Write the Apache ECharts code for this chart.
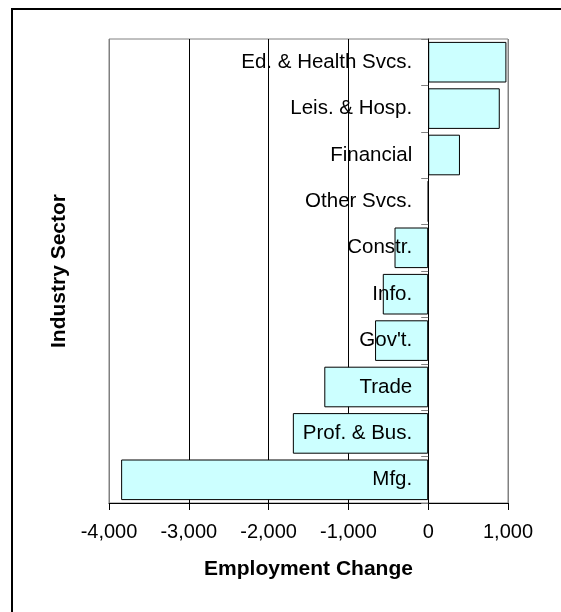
<!DOCTYPE html>
<html>
<head>
<meta charset="utf-8">
<script src="https://cdn.jsdelivr.net/npm/echarts@6/dist/echarts.min.js"></script>
<style>
  html, body { margin: 0; padding: 0; background: #fff; }
  #chart { width: 561px; height: 612px; }
</style>
</head>
<body>
<div id="chart"></div>
<script>
// Industry sectors, listed bottom to top as they appear on the category axis
const sectors = ['Mfg.', 'Prof. & Bus.', 'Trade', "Gov't.", 'Info.', 'Constr.',
                 'Other Svcs.', 'Financial', 'Leis. & Hosp.', 'Ed. & Health Svcs.'];
// Employment change per sector
const employmentChange = [-3848, -1696, -1302, -666, -569, -422, 0, 398, 897, 980];
// Value axis range and step
const axisMin = -4000;
const axisMax = 1000;
const axisStep = 1000;

const FONT = '"Liberation Sans", Arial, sans-serif';

function withCommas(v) {
  const s = Math.abs(v).toString().replace(/\B(?=(\d{3})+(?!\d))/g, ',');
  return (v < 0 ? '-' : '') + s;
}

const chart = echarts.init(document.getElementById('chart'), null, { renderer: 'canvas' });

chart.setOption({
  animation: false,
  backgroundColor: '#fff',
  grid: {
    left: 109, right: 53, top: 39, bottom: 109,
    containLabel: false,
    outerBoundsMode: 'none',
    show: true, borderColor: '#808080', borderWidth: 1
  },
  xAxis: {
    type: 'value',
    min: axisMin, max: axisMax, interval: axisStep,
    name: 'Employment Change',
    nameLocation: 'middle',
    nameGap: 56,
    nameTextStyle: { fontFamily: FONT, fontSize: 21, fontWeight: 'bold', color: '#000' },
    axisLine: { show: true, lineStyle: { color: '#000', width: 1 } },
    axisTick: { show: true, length: 7, lineStyle: { color: '#000' } },
    axisLabel: {
      fontFamily: FONT, fontSize: 20, color: '#000', margin: 19,
      formatter: withCommas
    },
    splitLine: {
      show: true,
      lineStyle: { color: ['#808080', '#000', '#000', '#000', '#000', '#808080'], width: 1 }
    }
  },
  yAxis: {
    type: 'category',
    data: sectors,
    z: 10,
    axisLine: { show: true, onZero: false, lineStyle: { color: '#000', width: 1 } },
    axisTick: { show: true, length: 7, lineStyle: { color: '#808080' } },
    axisLabel: { fontFamily: FONT, fontSize: 20.5, color: '#000', margin: 16 },
    splitLine: { show: false }
  },
  series: [{
    type: 'bar',
    data: employmentChange,
    barCategoryGap: '12.5%',
    itemStyle: { color: '#CCFFFF', borderColor: '#000', borderWidth: 1 }
  }],
  graphic: [
    {
      type: 'rect',
      shape: { x: 12, y: 9, width: 700, height: 700 },
      style: { fill: null, stroke: '#000', lineWidth: 2 },
      silent: true
    },
    {
      type: 'text',
      x: 59, y: 271,
      rotation: Math.PI / 2,
      style: {
        text: 'Industry Sector',
        fontFamily: FONT, fontSize: 21, fontWeight: 'bold', fill: '#000',
        align: 'center', verticalAlign: 'middle'
      }
    }
  ]
});

// Move the category axis (line, ticks and labels) onto the zero value of the x axis
const zeroShift = chart.convertToPixel({ xAxisIndex: 0 }, 0) -
                  chart.convertToPixel({ xAxisIndex: 0 }, axisMin);
chart.setOption({ yAxis: { offset: -zeroShift } });
</script>
</body>
</html>
